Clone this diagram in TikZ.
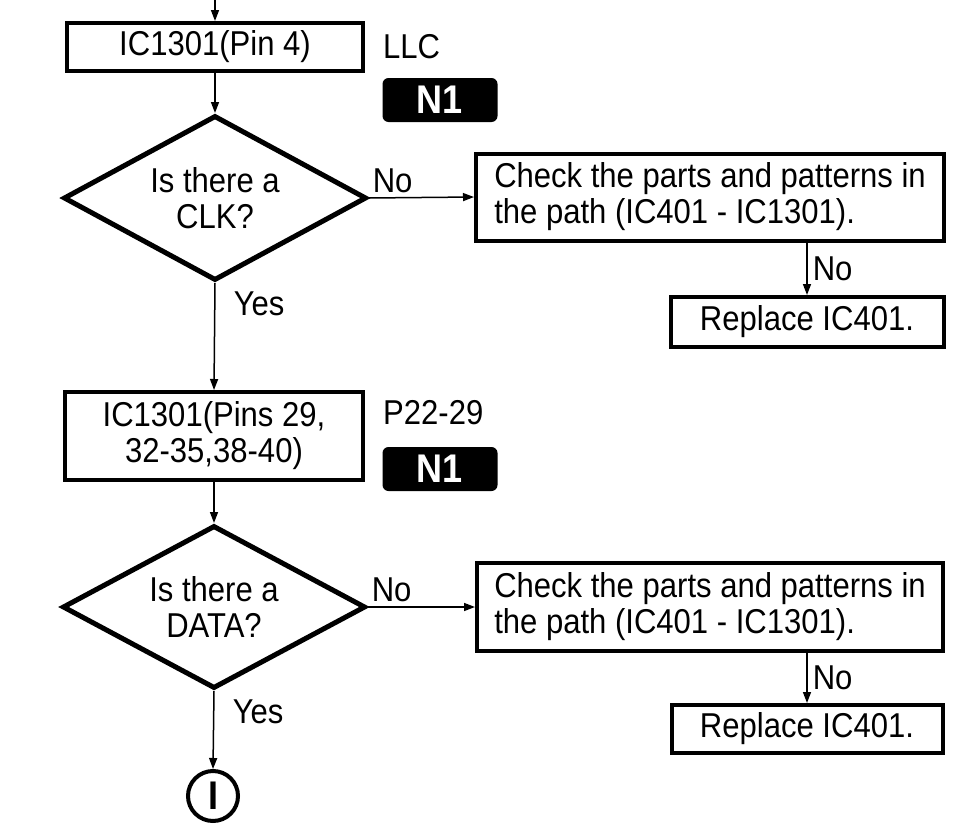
\documentclass[tikz,border=0pt]{standalone}
\usepackage{fontspec}
\setmainfont{Liberation Sans}[FakeStretch=0.9]
\usetikzlibrary{shapes.geometric,arrows.meta}
\begin{document}
\begin{tikzpicture}[x=1pt,y=-1pt,
  txt/.style={font=\fontsize{34.5}{36}\selectfont, inner sep=0pt},
  box/.style={draw, line width=4pt, txt, align=center},
  decision/.style={draw, diamond, line width=5pt, txt, align=center, aspect=1.84, inner sep=0pt},
  badge/.style={fill=black, rounded corners=6pt, text=white, font=\fontsize{40}{40}\bfseries\selectfont, minimum width=115pt, minimum height=44pt, inner sep=0pt},
  conn/.style={line width=1.5pt, -{Triangle[length=11pt,width=8pt]}},
  lbl/.style={txt, anchor=west},
  term/.style={draw, circle, line width=4pt, minimum size=50pt, inner sep=0pt, font=\fontsize{40}{40}\bfseries\selectfont}]
\useasboundingbox (0,0) rectangle (954,827);

% top section
\coordinate (start) at (215,0);
\node[box, minimum width=296pt, minimum height=48pt] (b1) at (215,47) {IC1301(Pin 4)};
\node[lbl] (llc) at (383,47) {LLC};
\node[badge] (n1a) at (440,100) {N1};
\node[decision, minimum width=303pt, minimum height=165pt] (d1) at (215,198) {Is there a\\CLK?};
\node[box, minimum width=468pt, minimum height=87pt, align=left] (c1) at (710,197) {Check the parts and patterns in\\the path (IC401 - IC1301).};
\node[box, minimum width=273pt, minimum height=50pt] (r1) at (807,322) {Replace IC401.};

% middle section
\node[box, minimum width=298pt, minimum height=88pt] (b2) at (214,436) {IC1301(Pins 29,\\32-35,38-40)};
\node[lbl] (p22) at (383,413) {P22-29};
\node[badge] (n1b) at (440,469) {N1};
\node[decision, minimum width=303pt, minimum height=163pt] (d2) at (214,607) {Is there a\\DATA?};
\node[box, minimum width=466pt, minimum height=88pt, align=left] (c2) at (710,607) {Check the parts and patterns in\\the path (IC401 - IC1301).};
\node[box, minimum width=271pt, minimum height=48pt] (r2) at (807,729) {Replace IC401.};

\node[term] (t) at (213,796) {I};

% connectors
\draw[conn] (start) -- (b1.north);
\draw[conn] (b1.south) -- (d1.north);
\draw[conn] (d1.east) -- node[lbl, anchor=south west, xshift=3pt, yshift=4pt, pos=0] {No} (c1.west);
\draw[conn] (d1.south) -- node[lbl, anchor=north west, xshift=18pt, yshift=-8pt, pos=0] {Yes} (b2.north);
\draw[conn] (c1.south -| r1.north) -- node[lbl, anchor=west, xshift=5pt, pos=0.5] {No} (r1.north);
\draw[conn] (b2.south) -- (d2.north);
\draw[conn] (d2.east) -- node[lbl, anchor=south west, xshift=3pt, yshift=4pt, pos=0] {No} (c2.west);
\draw[conn] (d2.south) -- node[lbl, anchor=north west, xshift=18pt, yshift=-8pt, pos=0] {Yes} (t.north);
\draw[conn] (c2.south -| r2.north) -- node[lbl, anchor=west, xshift=5pt, pos=0.5] {No} (r2.north);
\end{tikzpicture}
\end{document}
